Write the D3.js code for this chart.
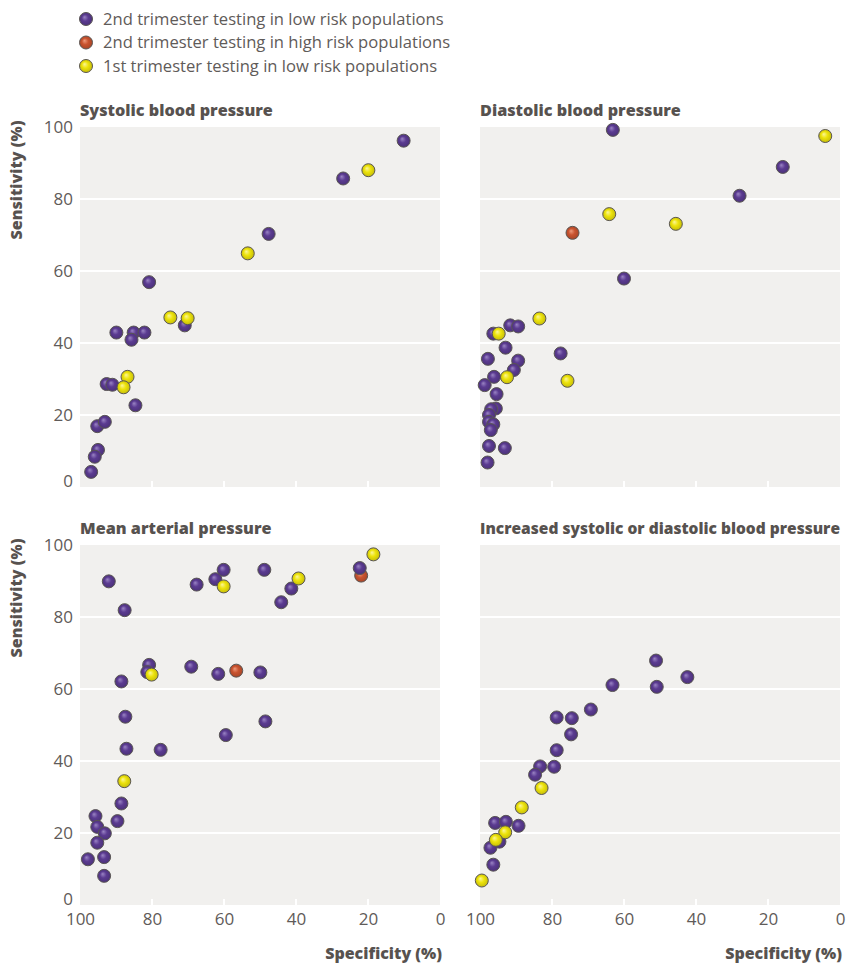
<!DOCTYPE html>
<html>
<head>
<meta charset="utf-8">
<script src="https://cdn.jsdelivr.net/npm/d3@7/dist/d3.min.js"></script>
<style>
  body { margin: 0; background: #ffffff; }
  svg { display: block; }
</style>
</head>
<body>
<svg id="chart" width="846" height="964"></svg>
<script>
// ---------------- DATA ----------------
const seriesNames = [
  "2nd trimester testing in low risk populations",
  "2nd trimester testing in high risk populations",
  "1st trimester testing in low risk populations"
];
const seriesKeys = ["low2", "high2", "low1"];
const panelTitles = [
  "Systolic blood pressure",
  "Diastolic blood pressure",
  "Mean arterial pressure",
  "Increased systolic or diastolic blood pressure"
];
const xTicks = [100, 80, 60, 40, 20, 0];
const yTicks = [0, 20, 40, 60, 80, 100];
const gridValues = [20, 40, 60, 80];

// [specificity, sensitivity]
const sbpLow2 = [[10.1,96.2],[26.9,85.7],[47.6,70.3],[80.8,56.9],[89.9,42.9],[85.1,42.9],[82.1,42.9],[85.7,40.9],[70.9,44.9],[92.6,28.6],[91.0,28.4],[84.6,22.7],[95.2,16.9],[93.1,18.1],[95.0,10.3],[95.9,8.4],[96.9,4.2]];
const sbpHigh2 = [];
const sbpLow1 = [[19.9,88.0],[53.4,64.9],[74.9,47.1],[70.1,46.9],[86.8,30.6],[87.9,27.7]];

const dbpLow2 = [[63.1,99.2],[15.9,88.9],[27.9,80.9],[60.0,57.9],[91.6,44.9],[89.4,44.6],[96.3,42.6],[92.9,38.7],[77.6,37.1],[97.8,35.6],[89.4,35.1],[90.6,32.5],[96.1,30.6],[98.7,28.3],[95.4,25.8],[95.6,21.8],[96.9,21.6],[97.5,20.0],[97.5,18.1],[96.3,17.4],[97.0,15.8],[97.5,11.4],[93.1,10.8],[97.9,6.8]];
const dbpHigh2 = [[74.3,70.6]];
const dbpLow1 = [[4.1,97.5],[64.1,75.8],[45.6,73.1],[83.5,46.8],[94.8,42.6],[92.5,30.5],[75.7,29.5]];

const mapLow2 = [[92.0,89.9],[87.6,81.9],[67.6,89.0],[62.4,90.5],[60.1,93.1],[48.8,93.1],[41.3,87.9],[44.1,84.1],[22.3,93.6],[80.8,66.7],[81.3,64.7],[69.1,66.2],[61.6,64.2],[49.9,64.6],[88.5,62.1],[87.4,52.3],[48.5,51.0],[59.5,47.2],[87.1,43.4],[77.6,43.1],[88.5,28.2],[89.6,23.3],[95.7,24.7],[95.2,21.7],[93.1,19.9],[95.2,17.3],[97.8,12.7],[93.3,13.3],[93.3,8.1]];
const mapHigh2 = [[56.6,65.1],[21.9,91.5]];
const mapLow1 = [[18.5,97.4],[39.3,90.7],[60.1,88.5],[80.1,64.0],[87.7,34.4]];

const incLow2 = [[51.1,67.9],[42.4,63.3],[50.9,60.6],[63.2,61.1],[69.2,54.3],[78.7,52.1],[74.5,51.9],[74.7,47.4],[78.7,43.0],[83.3,38.5],[79.4,38.4],[84.7,36.2],[95.8,22.8],[92.8,23.1],[89.3,22.0],[94.6,17.6],[97.1,15.9],[96.3,11.2]];
const incHigh2 = [];
const incLow1 = [[82.9,32.5],[88.4,27.1],[93.0,20.2],[95.6,18.1],[99.5,6.8]];

// ---------------- STYLE / LAYOUT ----------------
const colors = { low2: "#5b3b91", high2: "#c9532f", low1: "#ede30b" };
const highlights = { low2: "#9a84c4", high2: "#ee9a7c", low1: "#fbf69a" };
const textColor = "#57524f";
const tickColor = "#5f5b59";
const bg = "#f1f0ee";
const size = 360;

const panels = [
  { title: panelTitles[0], x0: 80, y0: 127, data: { low2: sbpLow2, high2: sbpHigh2, low1: sbpLow1 }, yAxis: true, xAxis: false },
  { title: panelTitles[1], x0: 480, y0: 127, data: { low2: dbpLow2, high2: dbpHigh2, low1: dbpLow1 }, yAxis: false, xAxis: false },
  { title: panelTitles[2], x0: 80, y0: 545, data: { low2: mapLow2, high2: mapHigh2, low1: mapLow1 }, yAxis: true, xAxis: true },
  { title: panelTitles[3], x0: 480, y0: 545, data: { low2: incLow2, high2: incHigh2, low1: incLow1 }, yAxis: false, xAxis: true, fit: 360, fs: 15 }
];

const svg = d3.select("#chart");
const defs = svg.append("defs");
seriesKeys.forEach(k => {
  const g = defs.append("radialGradient").attr("id", "grad-" + k)
    .attr("cx", "50%").attr("cy", "50%").attr("r", "55%")
    .attr("fx", "38%").attr("fy", "35%");
  g.append("stop").attr("offset", "0%").attr("stop-color", highlights[k]);
  g.append("stop").attr("offset", "45%").attr("stop-color", colors[k]);
  g.append("stop").attr("offset", "100%").attr("stop-color", d3.color(colors[k]).darker(0.6));
});

const font = "'Open Sans', 'DejaVu Sans', sans-serif";

// Legend
const legend = svg.append("g");
seriesKeys.forEach((k, i) => {
  const y = 19 + i * 23.5;
  legend.append("circle").attr("cx", 86).attr("cy", y).attr("r", 6.5)
    .attr("fill", "url(#grad-" + k + ")").attr("stroke", "#5a5654").attr("stroke-width", 1);
  legend.append("text").attr("x", 103).attr("y", y).attr("dy", "0.35em")
    .attr("font-family", font).attr("font-size", 16.6).attr("fill", tickColor)
    .text(seriesNames[i]);
});

panels.forEach(p => {
  const x = d3.scaleLinear().domain([100, 0]).range([p.x0, p.x0 + size]);
  const y = d3.scaleLinear().domain([0, 100]).range([p.y0 + size, p.y0]);
  const g = svg.append("g");

  g.append("rect").attr("x", p.x0).attr("y", p.y0).attr("width", size).attr("height", size).attr("fill", bg);

  // gridlines
  g.selectAll(".grid").data(gridValues).join("line")
    .attr("x1", p.x0).attr("x2", p.x0 + size)
    .attr("y1", d => y(d)).attr("y2", d => y(d))
    .attr("stroke", "#ffffff").attr("stroke-width", 2);

  // x tick marks (white, inside)
  g.selectAll(".xt").data([80, 60, 40, 20]).join("line")
    .attr("x1", d => x(d)).attr("x2", d => x(d))
    .attr("y1", p.y0 + size).attr("y2", p.y0 + size - 6)
    .attr("stroke", "#ffffff").attr("stroke-width", 2);

  // title
  const t = g.append("text").attr("x", p.x0).attr("y", p.y0 - 11)
    .attr("font-family", font).attr("font-weight", 800).attr("font-size", p.fs || 16.2)
    .attr("fill", textColor).text(p.title);
  if (p.fit) t.attr("textLength", p.fit).attr("lengthAdjust", "spacingAndGlyphs");

  if (p.yAxis) {
    const ya = d3.axisLeft(y).tickValues(yTicks).tickSize(0).tickPadding(7);
    const ag = g.append("g").attr("transform", `translate(${p.x0},0)`).call(ya);
    ag.select(".domain").remove();
    ag.selectAll("text").attr("font-family", font).attr("font-size", 17).attr("fill", tickColor);
    // nudge the "0" label up, as in the original
    ag.selectAll(".tick").filter(d => d === 0).select("text").attr("y", -6);
    g.append("text")
      .attr("transform", `translate(22,${p.y0 + 53}) rotate(-90)`)
      .attr("text-anchor", "middle")
      .attr("font-family", font).attr("font-weight", 800).attr("font-size", 16)
      .attr("fill", textColor).text("Sensitivity (%)");
  }
  if (p.xAxis) {
    const xa = d3.axisBottom(x).tickValues(xTicks).tickSize(0).tickPadding(8);
    const ag = g.append("g").attr("transform", `translate(0,${p.y0 + size})`).call(xa);
    ag.select(".domain").remove();
    ag.selectAll("text").attr("font-family", font).attr("font-size", 17).attr("fill", tickColor);
    g.append("text").attr("x", p.x0 + size + 2).attr("y", p.y0 + size + 54)
      .attr("text-anchor", "end")
      .attr("font-family", font).attr("font-weight", 800).attr("font-size", 16)
      .attr("fill", textColor).text("Specificity (%)");
  }

  // points: high risk first, then 2nd trimester low, then 1st trimester
  ["high2", "low2", "low1"].forEach(k => {
    g.selectAll(".pt-" + k).data(p.data[k]).join("circle")
      .attr("cx", d => x(d[0])).attr("cy", d => y(d[1])).attr("r", 6.5)
      .attr("fill", "url(#grad-" + k + ")")
      .attr("stroke", "#5a5654").attr("stroke-width", 1);
  });
});
</script>
</body>
</html>
